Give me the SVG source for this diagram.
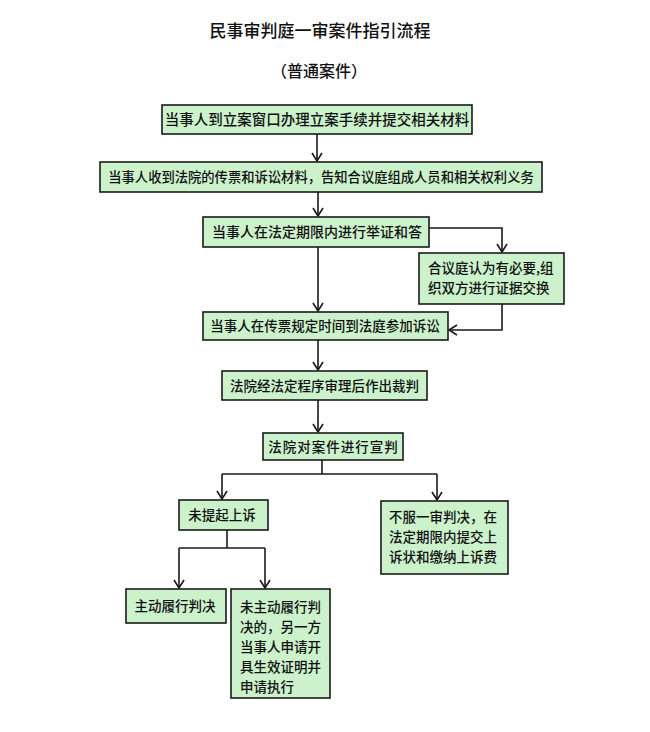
<svg xmlns="http://www.w3.org/2000/svg" width="650" height="732" viewBox="0 0 650 732">
<defs>
<style>
.box{fill:#ccf2cc;stroke:#1a1a1a;stroke-width:1.6}
.t{font-family:"Noto Sans CJK SC","Noto Sans",sans-serif;font-size:13.5px;font-weight:500;fill:#111}
.c{text-anchor:middle}
.title{font-family:"Noto Sans CJK SC",sans-serif;font-size:17px;font-weight:500;fill:#111;text-anchor:middle}
.ln{fill:none;stroke:#1a1a1a;stroke-width:1.6}
</style>
<marker id="arr" markerWidth="12" markerHeight="12" refX="10" refY="6" orient="auto" markerUnits="userSpaceOnUse">
<polyline points="2,1 10,6 2,11" fill="none" stroke="#1a1a1a" stroke-width="1.6"/>
</marker>
</defs>
<rect width="650" height="732" fill="#fff"/>
<text class="title" x="320" y="37">民事审判庭一审案件指引流程</text>
<text class="title" x="319" y="77" style="font-size:16px">（普通案件）</text>

<g id="connectors">
<line class="ln" x1="317" y1="134" x2="317" y2="161" marker-end="url(#arr)"/>
<line class="ln" x1="318" y1="192" x2="318" y2="216" marker-end="url(#arr)"/>
<line class="ln" x1="318" y1="247" x2="318" y2="311" marker-end="url(#arr)"/>
<polyline class="ln" points="429,228 502,228 502,252" marker-end="url(#arr)"/>
<polyline class="ln" points="502,304 502,330 449,330" marker-end="url(#arr)"/>
<line class="ln" x1="318" y1="340" x2="318" y2="370" marker-end="url(#arr)"/>
<line class="ln" x1="318" y1="400" x2="318" y2="432" marker-end="url(#arr)"/>
<line class="ln" x1="322" y1="460" x2="322" y2="474"/>
<line class="ln" x1="222" y1="474" x2="437" y2="474"/>
<line class="ln" x1="222" y1="474" x2="222" y2="499" marker-end="url(#arr)"/>
<line class="ln" x1="437" y1="474" x2="437" y2="500" marker-end="url(#arr)"/>
<line class="ln" x1="227" y1="530" x2="227" y2="548"/>
<line class="ln" x1="179" y1="548" x2="265" y2="548"/>
<line class="ln" x1="179" y1="548" x2="179" y2="588" marker-end="url(#arr)"/>
<line class="ln" x1="265" y1="548" x2="265" y2="588" marker-end="url(#arr)"/>
</g>

<g id="n1"><rect class="box" x="162" y="105" width="310" height="29"/><text class="t c" x="317" y="124.5" style="font-size:14.5px">当事人到立案窗口办理立案手续并提交相关材料</text></g>
<g id="n2"><rect class="box" x="100" y="162" width="442" height="30"/><text class="t c" x="321" y="182" style="font-size:13.3px">当事人收到法院的传票和诉讼材料，告知合议庭组成人员和相关权利义务</text></g>
<g id="n3"><rect class="box" x="203" y="217" width="226" height="30"/><text class="t c" x="317" y="237" style="font-size:14px">当事人在法定期限内进行举证和答</text></g>
<g id="n4"><rect class="box" x="419" y="253" width="145" height="51"/><text class="t" x="428" y="273">合议庭认为有必要,组</text><text class="t" x="428" y="293">织双方进行证据交换</text></g>
<g id="n5"><rect class="box" x="203" y="312" width="245" height="28"/><text class="t c" x="325" y="331">当事人在传票规定时间到法庭参加诉讼</text></g>
<g id="n6"><rect class="box" x="222" y="371" width="205" height="29"/><text class="t c" x="324.5" y="390.5">法院经法定程序审理后作出裁判</text></g>
<g id="n7"><rect class="box" x="263" y="433" width="140" height="27"/><text class="t c" x="333.5" y="451.5" style="letter-spacing:1px">法院对案件进行宣判</text></g>
<g id="n8"><rect class="box" x="179" y="500" width="89" height="30"/><text class="t c" x="222" y="520">未提起上诉</text></g>
<g id="n9"><rect class="box" x="381" y="501" width="127" height="73"/><text class="t" x="389" y="522">不服一审判决，在</text><text class="t" x="389" y="542">法定期限内提交上</text><text class="t" x="389" y="562">诉状和缴纳上诉费</text></g>
<g id="n10"><rect class="box" x="126" y="589" width="100" height="34"/><text class="t c" x="175" y="611">主动履行判决</text></g>
<g id="n11"><rect class="box" x="231" y="589" width="99" height="109"/><text class="t" x="240" y="612">未主动履行判</text><text class="t" x="240" y="632">决的，另一方</text><text class="t" x="240" y="652">当事人申请开</text><text class="t" x="240" y="672">具生效证明并</text><text class="t" x="240" y="692">申请执行</text></g>
</svg>
